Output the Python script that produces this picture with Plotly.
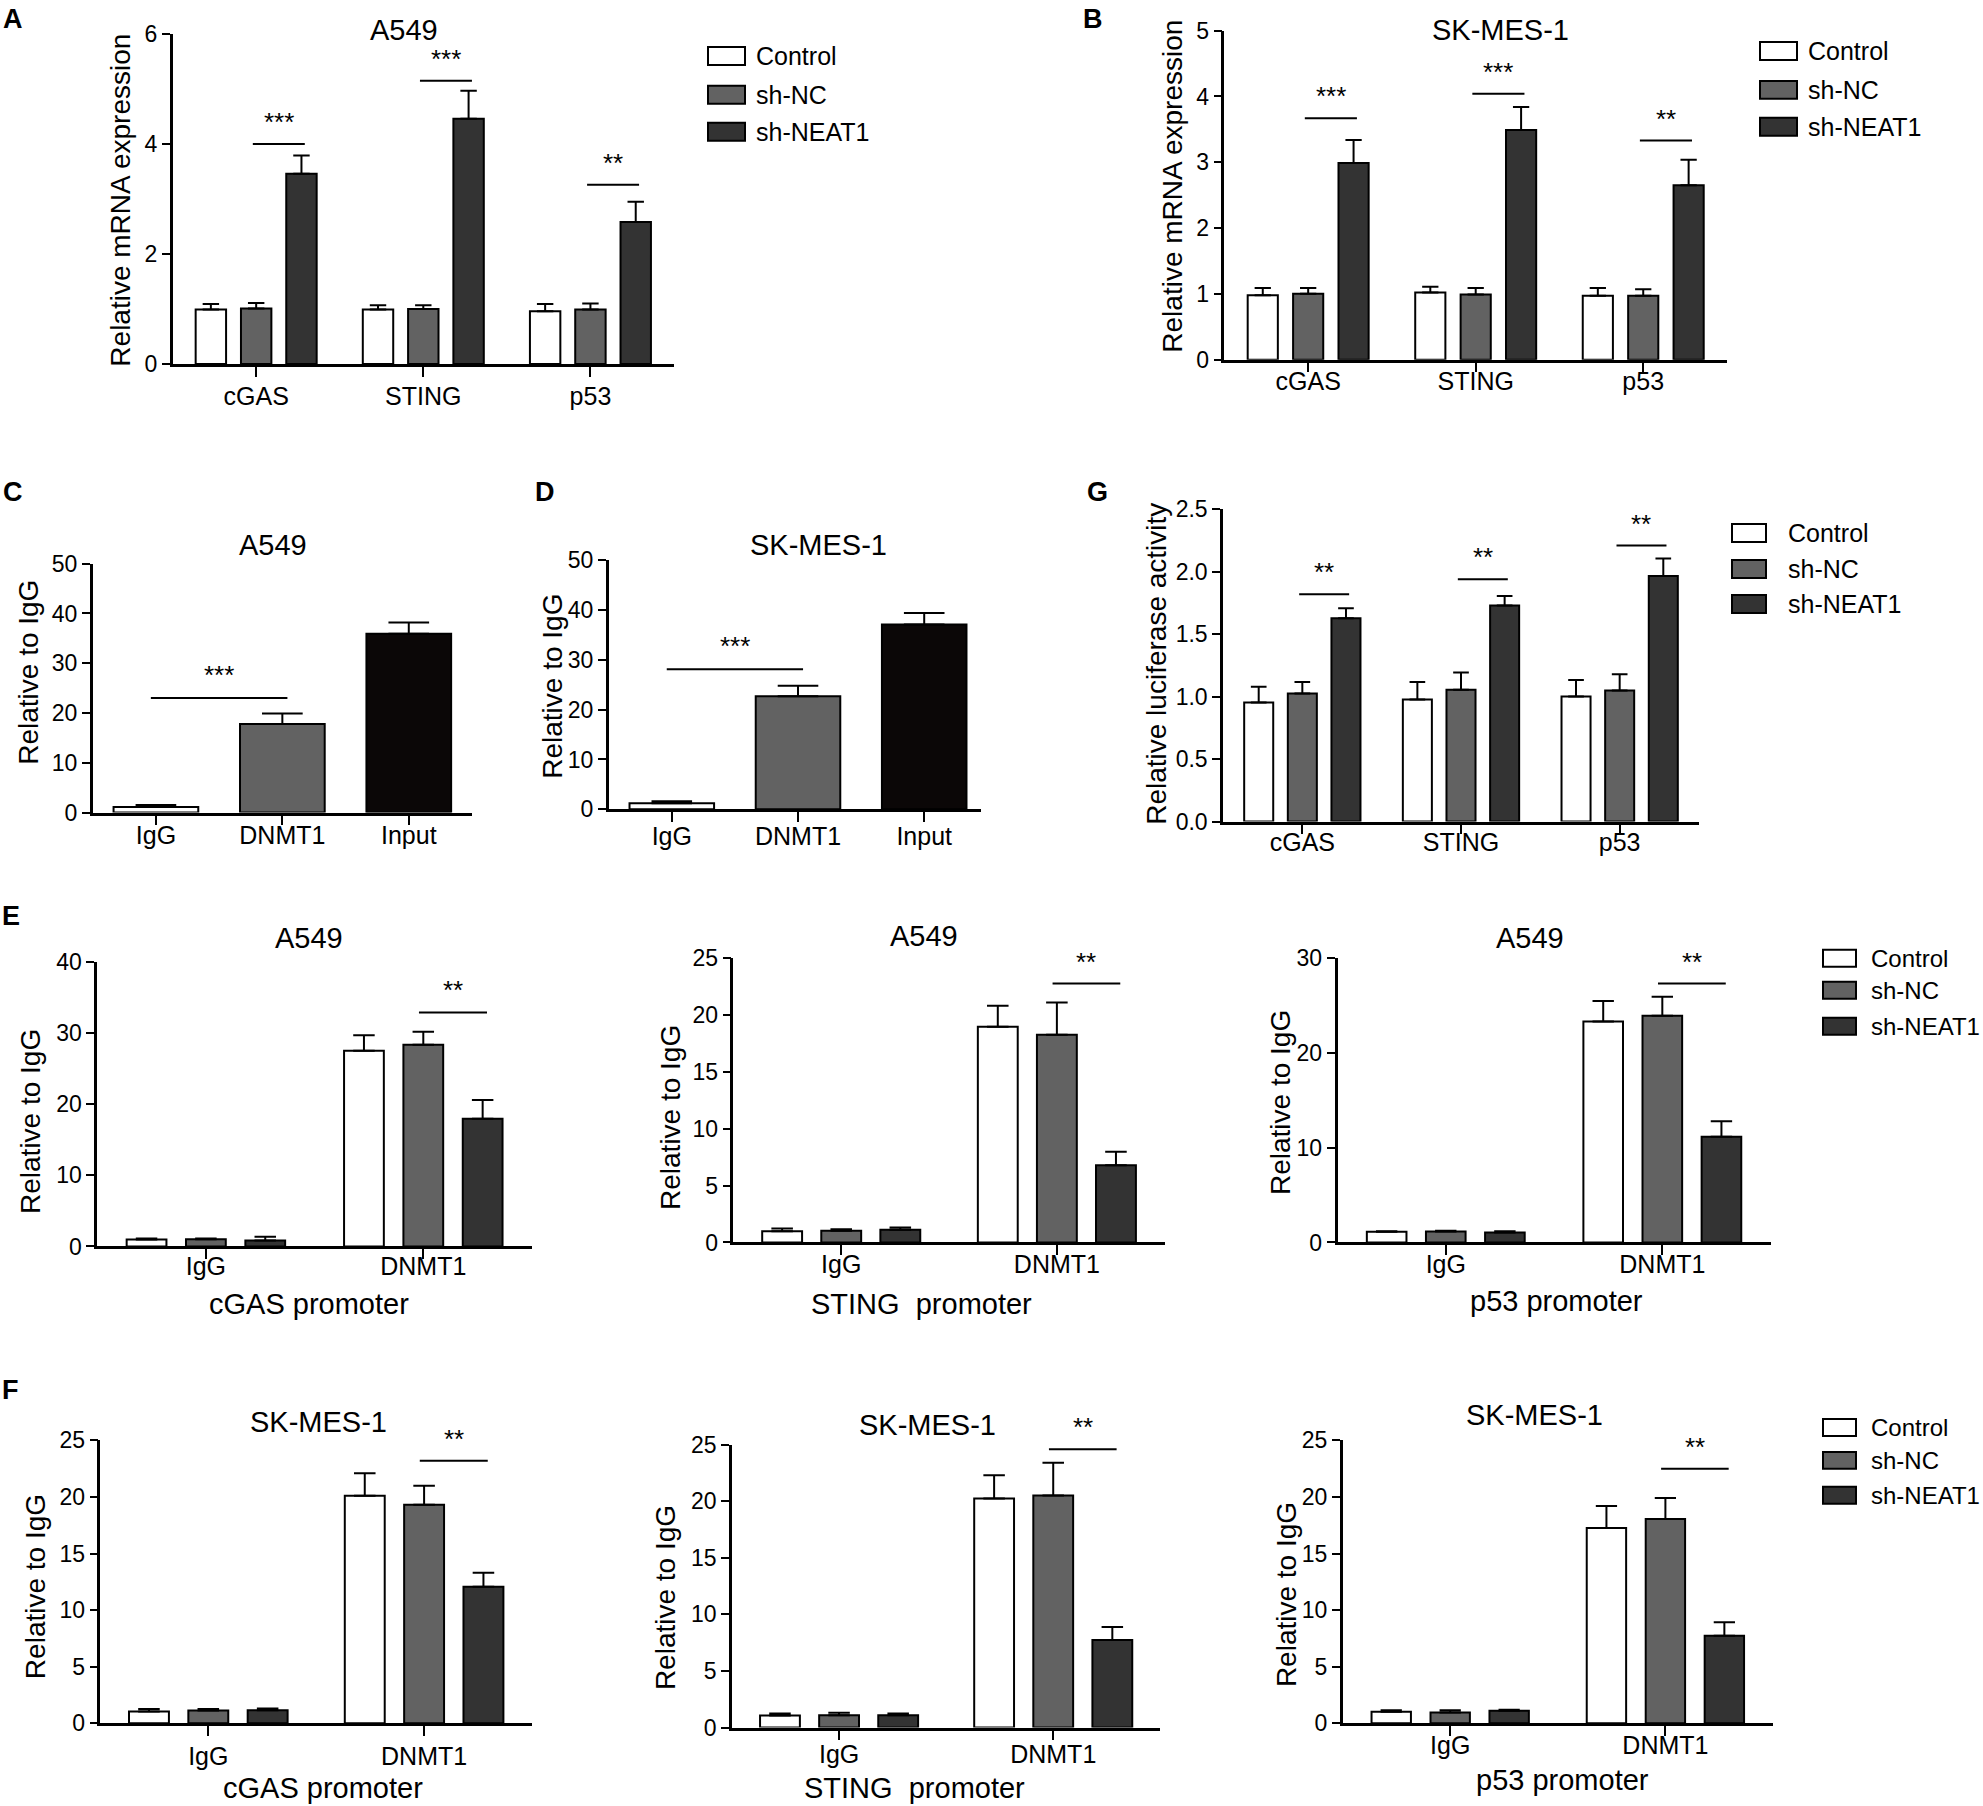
import plotly.graph_objects as go

W, H = 1983, 1806
FONT = "Arial, Liberation Sans, sans-serif"

# the page lands slightly shifted and squeezed vertically; map target pixel
# rows of the reference back to layout rows
SHIFT_Y, SQUEEZE_Y = 10.0, 0.9874

# ------------------------------------------------------
# data
# ------------------------------------------------------
groups = ["Control", "sh-NC", "sh-NEAT1"]
group_colors = ["#ffffff", "#626262", "#333333"]
genes = ["cGAS", "STING", "p53"]
chip_cats = ["IgG", "DNMT1"]
chip3_cats = ["IgG", "DNMT1", "Input"]
chip3_colors = ["#ffffff", "#626262", "#0b0707"]

# A: A549 relative mRNA expression
a_mean = [[0.99, 0.99, 0.96], [1.01, 1.00, 0.99], [3.46, 4.46, 2.58]]
a_err = [[0.10, 0.08, 0.13], [0.10, 0.07, 0.11], [0.33, 0.51, 0.37]]
a_sig_y = [4.0, 5.15, 3.26]
a_sig = ["***", "***", "**"]

# B: SK-MES-1 relative mRNA expression
b_mean = [[0.98, 1.02, 0.97], [1.00, 0.99, 0.97], [2.99, 3.49, 2.65]]
b_err = [[0.11, 0.09, 0.12], [0.09, 0.10, 0.10], [0.35, 0.35, 0.39]]
b_sig_y = [3.67, 4.04, 3.33]
b_sig = ["***", "***", "**"]

# C / D: RIP, relative to IgG
c_mean = [1.1, 17.8, 35.9]
c_err = [0.4, 2.1, 2.3]
c_sig_y = 23.0
d_mean = [1.2, 22.7, 37.1]
d_err = [0.4, 2.1, 2.3]
d_sig_y = 28.1

# G: relative luciferase activity
g_mean = [[0.954, 0.978, 1.002], [1.026, 1.055, 1.050], [1.628, 1.730, 1.967]]
g_err = [[0.126, 0.139, 0.131], [0.091, 0.139, 0.130], [0.080, 0.077, 0.139]]
g_sig_y = [1.82, 1.94, 2.21]
g_sig = ["**", "**", "**"]

# E: A549 ChIP (cGAS / STING / p53 promoter)
e1_mean = [[0.98, 27.5], [1.03, 28.35], [0.84, 17.96]]
e1_err = [[0.14, 2.2], [0.09, 1.85], [0.52, 2.64]]
e2_mean = [[0.99, 18.95], [1.02, 18.25], [1.11, 6.78]]
e2_err = [[0.24, 1.85], [0.15, 2.83], [0.21, 1.2]]
e3_mean = [[1.12, 23.3], [1.16, 23.9], [1.05, 11.16]]
e3_err = [[0.07, 2.17], [0.07, 2.0], [0.14, 1.61]]
e_sig_y = [32.9, 22.75, 27.3]

# F: SK-MES-1 ChIP
f1_mean = [[1.03, 20.1], [1.12, 19.3], [1.15, 12.06]]
f1_err = [[0.23, 2.0], [0.14, 1.7], [0.14, 1.24]]
f2_mean = [[1.06, 20.24], [1.09, 20.5], [1.09, 7.74]]
f2_err = [[0.18, 2.06], [0.23, 2.9], [0.15, 1.14]]
f3_mean = [[1.00, 17.26], [0.94, 18.06], [1.09, 7.74]]
f3_err = [[0.15, 1.94], [0.21, 1.85], [0.09, 1.18]]
f_sig_y = [23.2, 24.6, 22.5]

fig = go.Figure()
shapes = []
annotations = []


def py(y):
    """reference pixel row -> paper fraction"""
    return 1 - ((y - SHIFT_Y) / SQUEEZE_Y) / H


def refs(n):
    s = "" if n == 1 else str(n)
    return "x" + s, "y" + s, "xaxis" + s, "yaxis" + s


def text(x, y, s, size, xanchor="center", yanchor="middle", angle=0):
    annotations.append(dict(
        x=x / W, y=py(y), xref="paper", yref="paper", text=s,
        showarrow=False, xanchor=xanchor, yanchor=yanchor, textangle=angle,
        font=dict(family=FONT, size=size, color="black"),
    ))


def setup_axes(n, box, xrange, ymax, dtick, standoff, tickformat=None):
    xr, yr, xa, ya = refs(n)
    left, right, top, bottom = box
    fig.update_layout(**{
        xa: dict(
            domain=[left / W, right / W], anchor=yr, range=xrange,
            showline=True, linecolor="black", linewidth=2.5,
            ticks="outside", ticklen=10, tickwidth=2, tickcolor="black",
            showgrid=False, zeroline=False, ticklabelstandoff=standoff,
            tickfont=dict(family=FONT, size=25, color="black"),
        ),
        ya: dict(
            domain=[py(bottom), py(top)], anchor=xr, range=[0, ymax],
            dtick=dtick, tick0=0, tickformat=tickformat,
            showline=True, linecolor="black", linewidth=2.5,
            ticks="outside", ticklen=8, tickwidth=2, tickcolor="black",
            showgrid=False, zeroline=False,
            tickfont=dict(family=FONT, size=23, color="black"),
        ),
    })
    return (right - left) / (xrange[1] - xrange[0])


def grouped_panel(n, box, xrange, ymax, dtick, standoff, cats, means, errs,
                  sig_y, sig, slot, bw, tickformat=None):
    xr, yr, _, _ = refs(n)
    ppu = setup_axes(n, box, xrange, ymax, dtick, standoff, tickformat)
    for i, (g, c) in enumerate(zip(groups, group_colors)):
        fig.add_trace(go.Bar(
            x=cats, y=means[i], name=g, showlegend=False,
            offset=(i - 1) * slot - bw / 2, width=bw,
            marker=dict(color=c, line=dict(color="black", width=2)),
            error_y=dict(type="data", array=errs[i],
                         arrayminus=[0] * len(cats), symmetric=False,
                         color="black", thickness=2,
                         width=bw * ppu * 0.27),
            xaxis=xr, yaxis=yr, cliponaxis=False,
        ))
    for j, (yv, s) in enumerate(zip(sig_y, sig)):
        if not s:
            continue
        shapes.append(dict(type="line", xref=xr, yref=yr, x0=j - 0.02,
                           x1=j + slot + 0.02, y0=yv, y1=yv,
                           line=dict(color="black", width=2)))
        annotations.append(dict(
            x=j + slot / 2, y=yv, xref=xr, yref=yr, text=s, showarrow=False,
            yanchor="middle", yshift=22,
            font=dict(family=FONT, size=26, color="black")))


def chip3_panel(n, box, xrange, standoff, mean, err, sig_y):
    xr, yr, _, _ = refs(n)
    ppu = setup_axes(n, box, xrange, 50, 10, standoff)
    bw = 0.67
    fig.add_trace(go.Bar(
        x=chip3_cats, y=mean, width=bw, showlegend=False,
        marker=dict(color=chip3_colors, line=dict(color="black", width=2)),
        error_y=dict(type="data", array=err, arrayminus=[0] * len(mean),
                     symmetric=False, color="black", thickness=2,
                     width=bw * ppu * 0.24),
        xaxis=xr, yaxis=yr, cliponaxis=False,
    ))
    shapes.append(dict(type="line", xref=xr, yref=yr, x0=-0.04, x1=1.04,
                       y0=sig_y, y1=sig_y,
                       line=dict(color="black", width=2)))
    annotations.append(dict(
        x=0.5, y=sig_y, xref=xr, yref=yr, text="***", showarrow=False,
        yanchor="middle", yshift=23,
        font=dict(family=FONT, size=26, color="black")))


def legend_block(box_l, box_r, text_x, ys, box_h, size):
    for g, c, yc in zip(groups, group_colors, ys):
        shapes.append(dict(type="rect", xref="paper", yref="paper",
                           x0=box_l / W, x1=box_r / W,
                           y0=py(yc + box_h / 2), y1=py(yc - box_h / 2),
                           fillcolor=c, line=dict(color="black", width=2)))
        text(text_x, yc, g, size, xanchor="left")


# ---------------- A ----------------
grouped_panel(1, (172.6, 674, 31, 361.7), [-0.5, 2.5], 6, 2, -2, genes,
              a_mean, a_err, a_sig_y, a_sig, 0.271, 0.182)
text(404, 27, "A549", 29)
text(121, 198, "Relative mRNA expression", 28, angle=-90)
text(13, 16, "<b>A</b>", 27)
legend_block(708, 745, 754, [53, 92, 129], 18, 25)

# ---------------- B ----------------
grouped_panel(2, (1224.4, 1727, 27.7, 357.3), [-0.5, 2.5], 5, 1, -12, genes,
              b_mean, b_err, b_sig_y, b_sig, 0.271, 0.18)
text(1500, 27, "SK-MES-1", 29)
text(1173, 184, "Relative mRNA expression", 28, angle=-90)
text(1093, 16, "<b>B</b>", 27)
legend_block(1760, 1797, 1806, [48, 87, 124], 18, 25)

# ---------------- C ----------------
chip3_panel(3, (92.7, 472, 561.7, 811), [-0.5, 2.5], -11, c_mean, c_err,
            c_sig_y)
text(273, 543, "A549", 29)
text(29, 671, "Relative to IgG", 28, angle=-90)
text(13, 490, "<b>C</b>", 27)

# ---------------- D ----------------
chip3_panel(4, (608.7, 981, 558.3, 807.7), [-0.5, 2.45], -7, d_mean, d_err,
            d_sig_y)
text(818, 543, "SK-MES-1", 29)
text(553, 685, "Relative to IgG", 28, angle=-90)
text(545, 490, "<b>D</b>", 27)

# ---------------- G ----------------
grouped_panel(5, (1223, 1699, 507.3, 820), [-0.5, 2.5], 2.5, 0.5, -13, genes,
              g_mean, g_err, g_sig_y, g_sig, 0.275, 0.183, tickformat=".1f")
text(1157, 662, "Relative luciferase activity", 28, angle=-90)
text(1097, 490, "<b>G</b>", 27)
legend_block(1732, 1766, 1786, [531, 567, 602], 18, 25)

# ---------------- E ----------------
grouped_panel(6, (97.2, 532, 960.7, 1245.7), [-0.5, 1.5], 40, 10, -14,
              chip_cats, e1_mean, e1_err, [None, e_sig_y[0]], [None, "**"],
              0.273, 0.183)
text(309, 937, "A549", 29)
text(31, 1121, "Relative to IgG", 28, angle=-90)
text(309, 1303, "cGAS promoter", 29)
text(11, 915, "<b>E</b>", 27)

grouped_panel(7, (733.4, 1164.7, 956.7, 1241.7), [-0.5, 1.5], 25, 5, -12,
              chip_cats, e2_mean, e2_err, [None, e_sig_y[1]], [None, "**"],
              0.274, 0.185)
text(924, 935, "A549", 29)
text(671, 1117, "Relative to IgG", 28, angle=-90)
text(921, 1303, "STING  promoter", 29)

grouped_panel(8, (1337.5, 1770.6, 956.7, 1241.7), [-0.5, 1.5], 30, 10, -12,
              chip_cats, e3_mean, e3_err, [None, e_sig_y[2]], [None, "**"],
              0.273, 0.183)
text(1530, 937, "A549", 29)
text(1280, 1102, "Relative to IgG", 28, angle=-90)
text(1556, 1300, "p53 promoter", 29)
legend_block(1823, 1856, 1869, [957, 989, 1025], 17, 24)

# ---------------- F ----------------
grouped_panel(9, (100.4, 532, 1440, 1723.3), [-0.5, 1.5], 25, 5, -1,
              chip_cats, f1_mean, f1_err, [None, f_sig_y[0]], [None, "**"],
              0.275, 0.185)
text(318, 1422, "SK-MES-1", 29)
text(35, 1587, "Relative to IgG", 28, angle=-90)
text(323, 1788, "cGAS promoter", 29)
text(10, 1390, "<b>F</b>", 27)

grouped_panel(10, (732, 1160.3, 1444.3, 1727.7), [-0.5, 1.5], 25, 5, -7,
              chip_cats, f2_mean, f2_err, [None, f_sig_y[1]], [None, "**"],
              0.276, 0.186)
text(927, 1425, "SK-MES-1", 29)
text(665, 1598, "Relative to IgG", 28, angle=-90)
text(914, 1788, "STING  promoter", 29)

grouped_panel(11, (1342.6, 1773, 1440, 1723.3), [-0.5, 1.5], 25, 5, -12,
              chip_cats, f3_mean, f3_err, [None, f_sig_y[2]], [None, "**"],
              0.274, 0.183)
text(1534, 1415, "SK-MES-1", 29)
text(1286, 1595, "Relative to IgG", 28, angle=-90)
text(1562, 1780, "p53 promoter", 29)
legend_block(1823, 1856, 1869, [1427, 1460, 1495], 17, 24)

fig.update_layout(
    width=W, height=H, autosize=False,
    margin=dict(l=0, r=0, t=0, b=0),
    paper_bgcolor="white", plot_bgcolor="white",
    font=dict(family=FONT, color="black"),
    shapes=shapes, annotations=annotations,
    showlegend=False,
)

fig.write_html("out.html", config={"displayModeBar": False},
               post_script="document.body.style.margin='0px';")
